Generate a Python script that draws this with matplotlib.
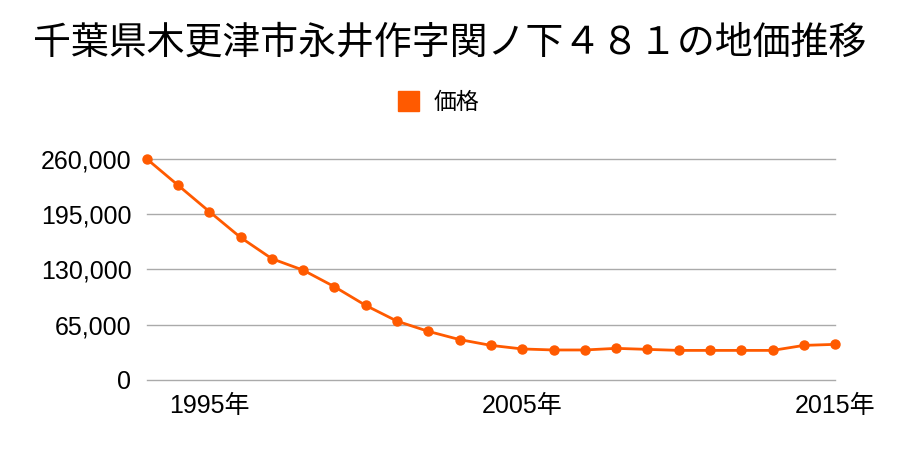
import matplotlib
matplotlib.use('Agg')
import matplotlib.pyplot as plt
from matplotlib.ticker import FuncFormatter

plt.rcParams['font.family'] = ['Liberation Sans', 'Noto Sans CJK JP', 'DejaVu Sans']

title = '千葉県木更津市永井作字関ノ下４８１の地価推移'
series_name = '価格'
years = list(range(1993, 2016))
prices = [260000, 229000, 198000, 167500, 142500, 129000, 109500, 87500,
          69000, 57000, 47300, 40500, 36300, 35100, 35100, 37000, 35800,
          34600, 34600, 34600, 34600, 40500, 41700]
y_ticks = [0, 65000, 130000, 195000, 260000]
x_ticks = [1995, 2005, 2015]

line_color = '#ff5a00'
cjk = ['Noto Sans CJK JP', 'DejaVu Sans']

fig = plt.figure(figsize=(9, 4.5), dpi=100)
ax = fig.add_axes([0.163, 0.156, 0.765, 0.491])

ax.plot(years, prices, color=line_color, lw=2, marker='o', markersize=6.5,
        label=series_name, zorder=3, clip_on=False)

ax.set_xlim(1993, 2015)
ax.set_ylim(0, 260000)
ax.set_yticks(y_ticks)
ax.yaxis.set_major_formatter(FuncFormatter(lambda v, p: f'{int(v):,}'))
ax.set_xticks(x_ticks)
ax.set_xticklabels([f'{y}年' for y in x_ticks])
for v in y_ticks:
    ax.axhline(v, color='#aaaaaa', lw=1, zorder=1, clip_on=False)
for s in ax.spines.values():
    s.set_visible(False)
ax.tick_params(axis='both', length=0, labelsize=18)
ax.tick_params(axis='y', pad=11)
ax.tick_params(axis='x', pad=10)

fig.text(0.5, 0.905, title, ha='center', va='center', fontsize=27.3, family=cjk)

leg = fig.legend(handles=[plt.Rectangle((0, 0), 1, 1, color=line_color)],
                 labels=[series_name], loc='center', bbox_to_anchor=(0.487, 0.773),
                 frameon=False, prop={'family': cjk, 'size': 16.5},
                 handlelength=0.95, handleheight=0.95, handletextpad=0.6)

fig.savefig('out.png', dpi=100)
